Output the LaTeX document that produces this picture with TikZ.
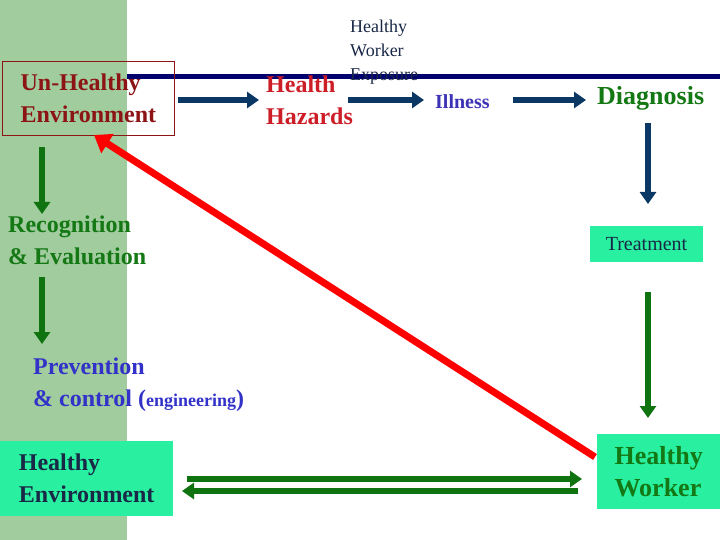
\documentclass[tikz,border=0pt]{standalone}
\usepackage{fontspec}
\setmainfont{Liberation Serif}
\usetikzlibrary{arrows.meta}
\definecolor{strip}{RGB}{160,204,158}
\definecolor{navy}{RGB}{0,0,110}
\definecolor{arrnavy}{RGB}{10,55,100}
\definecolor{dred}{RGB}{140,20,20}
\definecolor{hred}{RGB}{205,30,40}
\definecolor{ill}{RGB}{60,50,180}
\definecolor{dgreen}{RGB}{20,120,20}
\definecolor{agreen}{RGB}{15,115,15}
\definecolor{mint}{RGB}{40,240,160}
\definecolor{txtnavy}{RGB}{25,40,70}
\definecolor{pblue}{RGB}{50,50,200}
\begin{document}
\begin{tikzpicture}[x=1pt,y=-1pt,
  big/.style={font=\bfseries\fontsize{24}{32}\selectfont,align=left,inner sep=2pt},
  navarr/.style={arrnavy,line width=5.5pt,-{Triangle[length=12pt,width=16pt]}},
  grarr/.style={agreen,line width=5.5pt,-{Triangle[length=12pt,width=16pt]}},
  mintbox/.style={fill=mint,inner sep=3pt}]
\useasboundingbox (0,0) rectangle (720,540);
\fill[strip] (0,0) rectangle (127,540);
\draw[navy,line width=5pt] (127,77) -- (720,77);
\node[big,draw=dred,line width=0.8pt,text=dred,anchor=north west,minimum width=172pt,minimum height=74pt,inner sep=4pt] (ue) at (2,61) {Un-Healthy\\Environment};
\node[big,text=hred,anchor=west] (hh) at (264,100) {Health\\Hazards};
\node[font=\fontsize{18}{24}\selectfont,text=txtnavy,align=left,anchor=north west,inner sep=0pt] (hwe) at (350,20) {Healthy\\Worker\\Exposure};
\node[font=\bfseries\fontsize{20}{24}\selectfont,text=ill,anchor=west,inner sep=0pt] (ill) at (435,102) {Illness};
\node[font=\bfseries\fontsize{26}{30}\selectfont,text=dgreen,anchor=west,inner sep=0pt] (dg) at (597,98) {Diagnosis};
\node[mintbox,font=\fontsize{20}{24}\selectfont,text=txtnavy,minimum width=113pt,minimum height=36pt] (tr) at (646.5,244) {Treatment};
\node[mintbox,font=\bfseries\fontsize{26}{32}\selectfont,text=dgreen,align=left,anchor=north west,minimum width=123pt,minimum height=75pt] (hw) at (597,434) {Healthy\\Worker};
\node[mintbox,big,text=txtnavy,anchor=north west,minimum width=173pt,minimum height=75pt] (he) at (0,441) {Healthy\\Environment};
\node[big,text=dgreen,anchor=west,inner sep=0pt] (re) at (8,240) {Recognition\\\& Evaluation};
\node[big,text=pblue,anchor=west,inner sep=0pt] (pc) at (33,385) {Prevention\\\& control (\fontsize{18}{24}\selectfont engineering\fontsize{24}{32}\selectfont)};
\coordinate (a1) at (178,100); \coordinate (a2) at (259,100);
\draw[navarr] (a1) -- (a2);
\coordinate (b1) at (348,100); \coordinate (b2) at (424,100);
\draw[navarr] (b1) -- (b2);
\coordinate (c1) at (513,100); \coordinate (c2) at (586,100);
\draw[navarr] (c1) -- (c2);
\coordinate (d1) at (648,123); \coordinate (d2) at (648,204);
\draw[navarr] (d1) -- (d2);
\coordinate (e1) at (648,292); \coordinate (e2) at (648,418);
\draw[grarr] (e1) -- (e2);
\coordinate (f1) at (42,147); \coordinate (f2) at (42,214);
\draw[grarr] (f1) -- (f2);
\coordinate (g1) at (42,277); \coordinate (g2) at (42,344);
\draw[grarr] (g1) -- (g2);
\coordinate (h1) at (187,479); \coordinate (h2) at (582,479);
\draw[grarr] (h1) -- (h2);
\coordinate (i1) at (578,491); \coordinate (i2) at (182,491);
\draw[grarr] (i1) -- (i2);
\coordinate (r1) at (595,457); \coordinate (r2) at (94,135);
\draw[red,line width=7pt,-{Triangle[length=16pt,width=22pt]}] (r1) -- (r2);
\end{tikzpicture}
\end{document}
